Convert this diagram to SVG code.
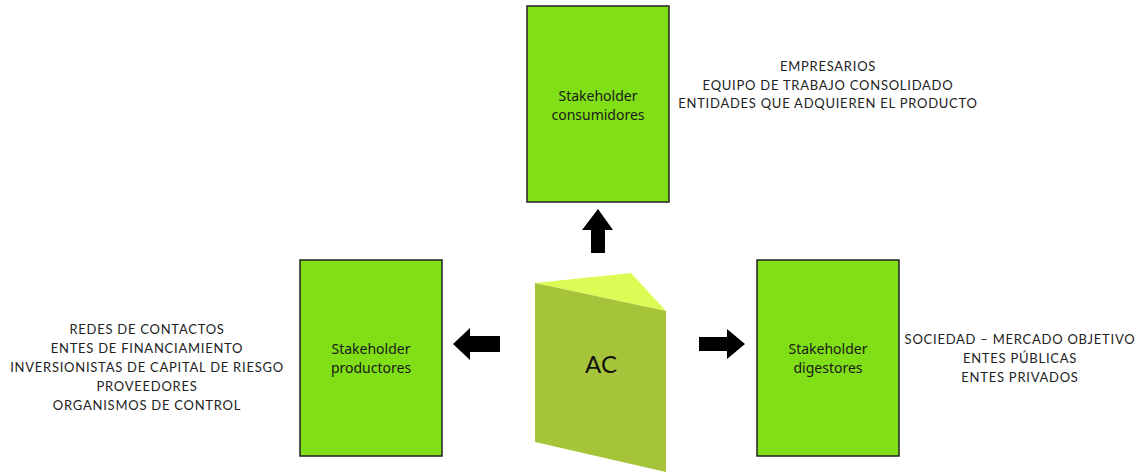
<svg xmlns="http://www.w3.org/2000/svg" width="1138" height="472" viewBox="0 0 1138 472">
  <style>
    .box { fill: #80DF16; stroke: #222; stroke-width: 1.5; }
    .lbl { font-family: "Noto Sans", "Lato", sans-serif; font-size: 14px; fill: #1a1a1a; text-anchor: middle; }
    .list { font-family: "Lato", "Noto Sans", sans-serif; font-size: 13px; fill: #222; text-anchor: middle; letter-spacing: 0.75px; }
    .arrow { fill: #000; }
  </style>
  <rect width="1138" height="472" fill="#fff"/>

  <!-- central prism -->
  <g id="ac">
    <polygon points="535,283 631,273 666,311" fill="#DDFB55"/>
    <polygon points="535,283 666,311 666,472 535,442" fill="#A5C43A"/>
    <text x="601" y="373" font-family="Lato, 'Noto Sans', sans-serif" font-size="24" text-anchor="middle" fill="#111">AC</text>
  </g>

  <g id="consumidores">
    <rect class="box" x="527" y="6" width="142" height="196"/>
    <text class="lbl" x="598" y="101">Stakeholder</text>
    <text class="lbl" x="598" y="120">consumidores</text>
  </g>

  <g id="productores">
    <rect class="box" x="300" y="260" width="142" height="196"/>
    <text class="lbl" x="371" y="354">Stakeholder</text>
    <text class="lbl" x="371" y="373">productores</text>
  </g>

  <g id="digestores">
    <rect class="box" x="757" y="260" width="142" height="196"/>
    <text class="lbl" x="828" y="354">Stakeholder</text>
    <text class="lbl" x="828" y="373">digestores</text>
  </g>

  <!-- block arrows -->
  <g id="connectors">
    <polygon class="arrow" points="598,209 613,230 605,230 605,253 591,253 591,230 582,230"/>
    <polygon class="arrow" points="453,344 470,328 470,336 500,336 500,352 470,352 470,360"/>
    <polygon class="arrow" points="745,344 727,329 727,337 699,337 699,351 727,351 727,359"/>
  </g>

  <g id="lista-consumidores">
    <text class="list" x="828" y="71">EMPRESARIOS</text>
    <text class="list" x="828" y="90">EQUIPO DE TRABAJO CONSOLIDADO</text>
    <text class="list" x="828" y="108">ENTIDADES QUE ADQUIEREN EL PRODUCTO</text>
  </g>

  <g id="lista-productores">
    <text class="list" x="147" y="334">REDES DE CONTACTOS</text>
    <text class="list" x="147" y="353">ENTES DE FINANCIAMIENTO</text>
    <text class="list" x="147" y="372">INVERSIONISTAS DE CAPITAL DE RIESGO</text>
    <text class="list" x="147" y="391">PROVEEDORES</text>
    <text class="list" x="147" y="410">ORGANISMOS DE CONTROL</text>
  </g>

  <g id="lista-digestores">
    <text class="list" x="1020" y="344">SOCIEDAD – MERCADO OBJETIVO</text>
    <text class="list" x="1020" y="363">ENTES PÚBLICAS</text>
    <text class="list" x="1020" y="382">ENTES PRIVADOS</text>
  </g>
</svg>
